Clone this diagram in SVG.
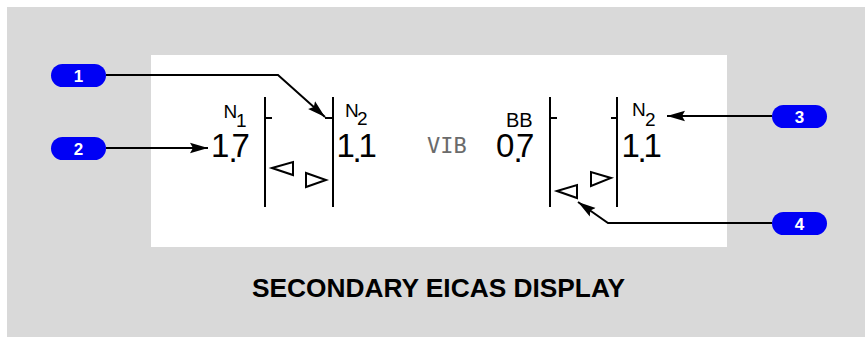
<svg xmlns="http://www.w3.org/2000/svg" width="865" height="337" viewBox="0 0 865 337">
<style>
.disp{stroke:#000;stroke-width:2;fill:none}
.tri{stroke:#000;stroke-width:2;fill:#fff;stroke-linejoin:miter}
.lbl{font-family:"Liberation Sans",Arial,sans-serif;fill:#000}
.big{font-size:33px}
.sm{font-size:19px}
.vib{font-family:"DejaVu Sans Mono",monospace;font-size:22px;fill:#6b6b6b}
.badge{fill:#0000f5}
.bnum{font-family:"Liberation Sans",Arial,sans-serif;font-weight:bold;font-size:17px;fill:#fff;text-anchor:middle}
.conn{stroke:#000;stroke-width:2;fill:none}
.title{font-family:"Liberation Sans",Arial,sans-serif;font-weight:bold;font-size:26.3px;fill:#000;text-anchor:middle}
</style>
<defs>
<marker id="ah" markerUnits="userSpaceOnUse" markerWidth="19" markerHeight="12" refX="18" refY="6" orient="auto">
<path d="M0,0.8 L18,6 L0,11.2 L3,6 z" fill="#000"/>
</marker>
</defs>
<rect x="7" y="7" width="858" height="330" fill="#d9d9d9"/>
<g id="display">
<rect x="151" y="55" width="576" height="192" fill="#fff"/>
<g id="n1-gauge">
<line class="disp" x1="265" y1="97" x2="265" y2="207"/>
<line class="disp" x1="265" y1="118" x2="272" y2="118"/>
<line class="disp" x1="333" y1="97" x2="333" y2="207"/>
<line class="disp" x1="325" y1="118" x2="333" y2="118"/>
<polygon class="tri" points="272,168 293,162 293,175"/>
<polygon class="tri" points="306,173 306,187 326,180"/>
<text class="lbl sm"><tspan x="223.5" y="118">N</tspan><tspan x="236" y="127">1</tspan></text>
<text class="lbl big"><tspan x="211" y="157">1</tspan><tspan x="228.5" y="162">.</tspan><tspan x="231.5" y="157">7</tspan></text>
<text class="lbl sm"><tspan x="345" y="117">N</tspan><tspan x="357" y="125">2</tspan></text>
<text class="lbl big"><tspan x="336.5" y="157">1</tspan><tspan x="352.5" y="162">.</tspan><tspan x="358.5" y="157">1</tspan></text>
</g>
<text class="vib" x="427" y="153">VIB</text>
<g id="n2-gauge">
<line class="disp" x1="550" y1="97" x2="550" y2="207"/>
<line class="disp" x1="550" y1="118" x2="557" y2="118"/>
<line class="disp" x1="617" y1="97" x2="617" y2="207"/>
<line class="disp" x1="611" y1="118" x2="617" y2="118"/>
<polygon class="tri" points="557,191 577,185 577,198"/>
<polygon class="tri" points="591,172 591,186 611,178"/>
<text class="lbl" style="font-size:20px" x="506" y="127">BB</text>
<text class="lbl big"><tspan x="496" y="157">0</tspan><tspan x="513.5" y="162">.</tspan><tspan x="516" y="157">7</tspan></text>
<text class="lbl sm"><tspan x="632" y="116">N</tspan><tspan x="645" y="126">2</tspan></text>
<text class="lbl big"><tspan x="621.5" y="157">1</tspan><tspan x="637.5" y="162">.</tspan><tspan x="643.5" y="157">1</tspan></text>
</g>
</g>
<g id="connectors">
<path class="conn" d="M106,75 L278,75 L325,117" marker-end="url(#ah)"/>
<path class="conn" d="M106,148 L208,148" marker-end="url(#ah)"/>
<path class="conn" d="M772,116 L667,116" marker-end="url(#ah)"/>
<path class="conn" d="M772,223 L608,223 L578,202" marker-end="url(#ah)"/>
</g>
<g id="badge1"><rect class="badge" x="51" y="64" width="55" height="23" rx="11.5"/><text class="bnum" x="78.5" y="81.5">1</text></g>
<g id="badge2"><rect class="badge" x="51" y="137" width="55" height="23" rx="11.5"/><text class="bnum" x="78.5" y="154.5">2</text></g>
<g id="badge3"><rect class="badge" x="772" y="105" width="55" height="23" rx="11.5"/><text class="bnum" x="799.5" y="122.5">3</text></g>
<g id="badge4"><rect class="badge" x="772" y="212" width="55" height="23" rx="11.5"/><text class="bnum" x="799.5" y="229.5">4</text></g>
<text class="title" x="438.5" y="297">SECONDARY EICAS DISPLAY</text>
</svg>
